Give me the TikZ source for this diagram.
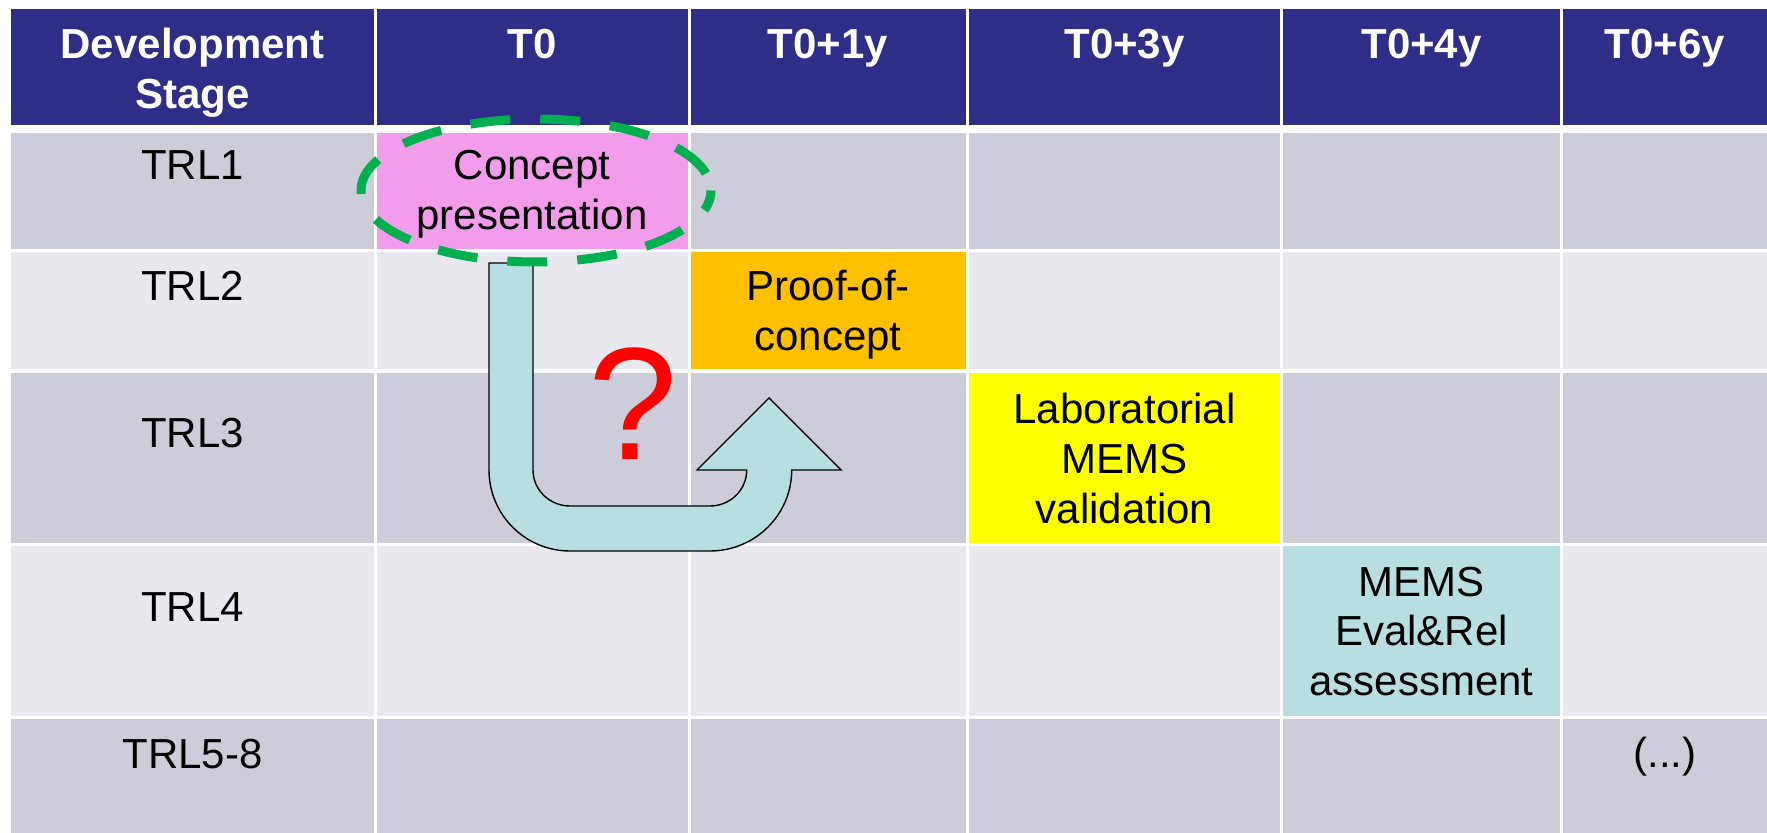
\documentclass[tikz,border=0pt]{standalone}
\usepackage{fontspec}
\setmainfont{Liberation Sans}
\definecolor{hdr}{RGB}{46,46,136}
\definecolor{rowA}{RGB}{205,205,218}
\definecolor{rowB}{RGB}{232,232,238}
\definecolor{pinkcell}{RGB}{244,156,236}
\definecolor{orangecell}{RGB}{255,192,0}
\definecolor{yellowcell}{RGB}{255,255,0}
\definecolor{tealcell}{RGB}{183,222,225}
\definecolor{ringgreen}{RGB}{0,176,80}
\definecolor{qred}{RGB}{255,0,0}
\begin{document}
\begin{tikzpicture}[x=0.5pt,y=-0.5pt,
  % multi-line texts are anchored on the baseline of their last line
  celltext/.style={inner sep=0pt, anchor=base, align=center,
    font=\fontsize{21}{25}\selectfont},
  headtext/.style={celltext, text=white,
    font=\bfseries\fontsize{21}{25}\selectfont},
  uturn/.style={fill=tealcell, draw=black, line width=0.7pt, line join=miter},
  ring/.style={draw=ringgreen, line width=4.5pt,
    dash pattern=on 20pt off 15pt, dash phase=26pt}]
\useasboundingbox (0,0) rectangle (1767,833);
\fill[white] (0,0) rectangle (1767,833);

% table body: header row and five stage rows, six columns
\foreach \l/\r in {11/374, 377/687.5, 690.5/965.5, 969/1280, 1283/1560, 1563/1767} {
  \fill[hdr]  (\l,9)   rectangle (\r,125);
  \fill[rowA] (\l,133) rectangle (\r,249);
  \fill[rowB] (\l,252) rectangle (\r,369);
  \fill[rowA] (\l,373) rectangle (\r,543);
  \fill[rowB] (\l,546) rectangle (\r,716);
  \fill[rowA] (\l,719) rectangle (\r,833);
}

% highlighted milestone cells
\fill[pinkcell]   (377,133)   rectangle (687.5,249);
\fill[orangecell] (690.5,252) rectangle (965.5,369);
\fill[yellowcell] (969,373)   rectangle (1280,543);
\fill[tealcell]   (1283,546)  rectangle (1560,716);

% column headings
\node[headtext] (hstage) at (192.5,108.3) {Development\\Stage};
\node[headtext] (ht0) at (532,58.3) {T0};
\node[headtext] (ht1) at (828,58.3) {T0+1y};
\node[headtext] (ht3) at (1124.5,58.3) {T0+3y};
\node[headtext] (ht4) at (1421.5,58.3) {T0+4y};
\node[headtext] (ht6) at (1665,58.3) {T0+6y};

% stage labels
\node[celltext] (trl1) at (192.5,180) {TRL1};
\node[celltext] (trl2) at (192.5,301) {TRL2};
\node[celltext] (trl3) at (192.5,448) {TRL3};
\node[celltext] (trl4) at (192.5,622) {TRL4};
\node[celltext] (trl5) at (192.5,768) {TRL5-8};

% milestones
\node[celltext] (concept) at (532,230) {Concept\\presentation};
\node[celltext] (proof) at (828,351) {Proof-of-\\concept};
\node[celltext] (lab) at (1124.5,523.5) {Laboratorial\\MEMS\\validation};
\node[celltext] (evalrel) at (1421.5,696) {MEMS\\Eval\&Rel\\assessment};
\node[celltext] (more) at (1665,767.5) {(...)};

% U-turn block arrow from the concept cell towards the proof-of-concept cell
\draw[uturn] (489,263) -- (533,263) -- (533,470)
  .. controls (533,489.9) and (549.6,506) .. (570,506)
  -- (710,506)
  .. controls (730.3,506) and (746.7,489.9) .. (746.7,470)
  -- (697,470) -- (769,398) -- (841,470) -- (791.7,470)
  .. controls (791.7,514.7) and (755.1,551) .. (710,551)
  -- (570,551)
  .. controls (525.3,551) and (489,514.7) .. (489,470)
  -- cycle;

% question mark over the arrow
\node[inner sep=0pt, anchor=base, text=qred, font=\fontsize{80}{96}\selectfont]
  (qmark) at (632.5,460) {?};

% dashed ring around the concept cell
\draw[ring] (536,190.5) ellipse [x radius=87.5pt, y radius=35.75pt];
\end{tikzpicture}
\end{document}
